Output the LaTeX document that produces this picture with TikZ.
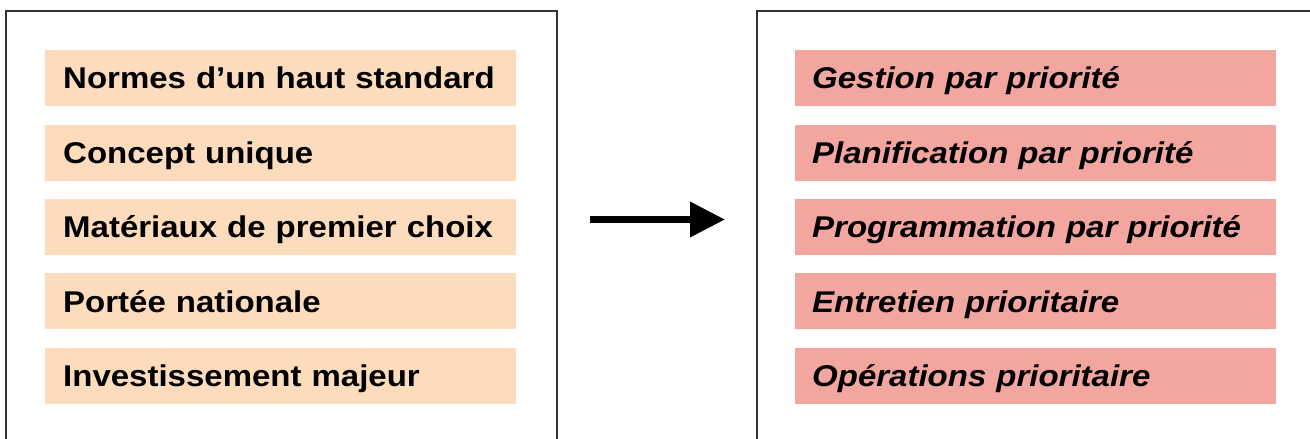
\documentclass[tikz,border=0pt]{standalone}
\usepackage{fontspec}
\setmainfont[FakeStretch=1.1]{Liberation Sans}
\usepackage{xcolor}
\usepackage{tikz}
\usetikzlibrary{arrows.meta, positioning}

\definecolor{peach}{RGB}{252,220,188}
\definecolor{salmon}{RGB}{243,166,160}
\definecolor{framegray}{RGB}{50,50,50}

\begin{document}
\begin{tikzpicture}[x=1pt, y=1pt, node distance=18pt]
    % Define styles
    \tikzset{
        bar/.style={rectangle, draw=none, minimum height=56pt, text height=21.5pt, text depth=0pt,
            inner ysep=0pt, align=left, font=\fontsize{30}{36}\selectfont\bfseries},
        quality/.style={bar, fill=peach, text width=435pt, inner xsep=18pt},
        priority/.style={bar, fill=salmon, text width=447pt, inner xsep=17pt, font=\fontsize{30}{36}\selectfont\bfseries\itshape},
        frame/.style={draw=framegray, line width=2.5pt},
        bigarrow/.style={line width=7pt, -{Triangle[length=35pt, width=34pt]}}
    }
    \useasboundingbox (0,0) rectangle (1310,-439);

    % Frames
    \draw[frame] (6,-450) |- (557,-11) -- (557,-450);
    \draw[frame] (757,-450) |- (1320,-11);

    % Nodes
    \node[quality, anchor=north west] (normes) at (45,-50) {Normes d’un haut standard};
    \node[quality, below=of normes] (concept) {Concept unique};
    \node[quality, below=of concept] (materiaux) {Matériaux de premier choix};
    \node[quality, below=of materiaux] (portee) {Portée nationale};
    \node[quality, below=of portee] (invest) {Investissement majeur};

    \node[priority, anchor=north west] (gestion) at (795,-50) {Gestion par priorité};
    \node[priority, below=of gestion] (planif) {Planification par priorité};
    \node[priority, below=of planif] (program) {Programmation par priorité};
    \node[priority, below=of program] (entretien) {Entretien prioritaire};
    \node[priority, below=of entretien] (operations) {Opérations prioritaire};

    % Arrows
    \coordinate (arrowtail) at (590,-219.5);
    \coordinate (arrowtip) at (725,-219.5);
    \draw[bigarrow] (arrowtail) -- (arrowtip);
\end{tikzpicture}
\end{document}
